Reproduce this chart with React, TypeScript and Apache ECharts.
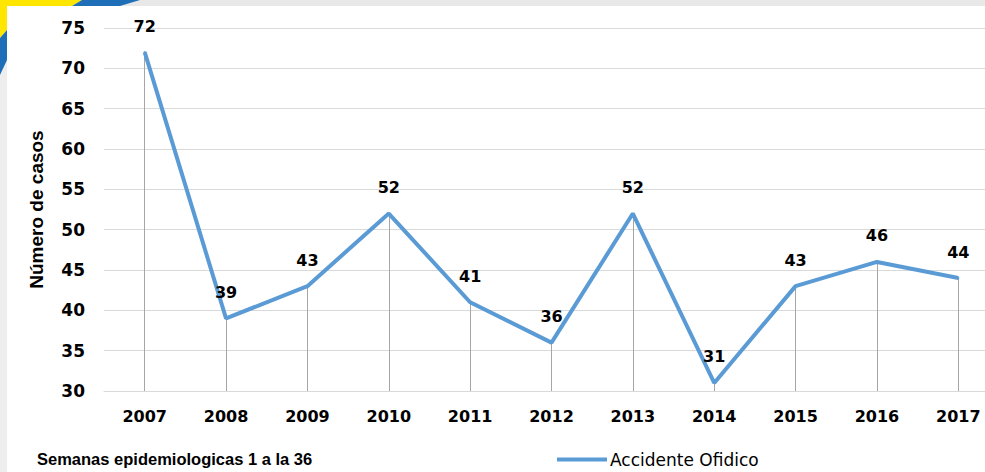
import React, { useEffect, useRef } from "react";
import * as echarts from "echarts";

const years = ["2007", "2008", "2009", "2010", "2011", "2012", "2013", "2014", "2015", "2016", "2017"];
const casos = [72, 39, 43, 52, 41, 36, 52, 31, 43, 46, 44];
const seriesName = "Accidente Ofidico";
const yAxisName = "Número de casos";
const footNote = "Semanas epidemiologicas 1 a la 36";

export default function App() {
  const ref = useRef<HTMLDivElement>(null);
  useEffect(() => {
    if (!ref.current) return;
    const chart = echarts.init(ref.current, undefined, { renderer: "svg" });
    const yMin = 30;
    const drops = casos.map((v, i) => [
      { coord: [i, yMin] },
      { coord: [i, v] },
    ]);
    chart.setOption({
      animation: false,
      backgroundColor: "#ffffff",
      graphic: [
        { type: "rect", shape: { x: 0, y: 0, width: 1000, height: 6 }, style: { fill: "#e8e8e8" }, z: -10 },
        { type: "rect", shape: { x: 0, y: 0, width: 7, height: 472 }, style: { fill: "#eeeeee" }, z: -10 },
        { type: "polygon", shape: { points: [[0, 0], [82, 0], [72, 6], [7, 6], [7, 30], [0, 38]] }, style: { fill: "#ffe600" }, z: -9 },
        { type: "polygon", shape: { points: [[82, 0], [140, 0], [120, 6], [72, 6]] }, style: { fill: "#1f6fb8" }, z: -9 },
        { type: "polygon", shape: { points: [[0, 38], [7, 30], [7, 60], [0, 75]] }, style: { fill: "#1f6fb8" }, z: -9 },
        {
          type: "text",
          left: 37,
          top: 450,
          style: { text: footNote, font: "bold 16.5px 'Liberation Sans', Arial", fill: "#000" },
        },
      ],
      grid: { left: 104, right: 1, top: 28, bottom: 81 },
      legend: {
        left: 557,
        top: 451,
        icon: "rect",
        itemWidth: 50,
        itemHeight: 4,
        itemGap: 10,
        padding: 0,
        textStyle: { fontFamily: "'DejaVu Sans', Arial", fontSize: 17, color: "#000", padding: [0, 0, 0, -2] },
        data: [seriesName],
      },
      xAxis: {
        type: "category",
        data: years,
        boundaryGap: true,
        axisLine: { lineStyle: { color: "#d9d9d9", width: 1 } },
        axisTick: { show: false },
        axisLabel: { color: "#000", fontWeight: "bold", fontFamily: "'DejaVu Sans'", fontSize: 16, margin: 17 },
      },
      yAxis: {
        type: "value",
        min: 30,
        max: 75,
        interval: 5,
        name: yAxisName,
        nameLocation: "middle",
        nameGap: 58,
        nameTextStyle: { color: "#000", fontWeight: "bold", fontFamily: "'Liberation Sans', Arial", fontSize: 19 },
        axisLine: { show: false },
        axisTick: { show: false },
        splitLine: { lineStyle: { color: "#d9d9d9", width: 1 } },
        axisLabel: { color: "#000", fontWeight: "bold", fontFamily: "'DejaVu Sans'", fontSize: 17, margin: 19 },
      },
      series: [
        {
          name: seriesName,
          type: "line",
          data: casos,
          symbol: "circle",
          symbolSize: 2,
          showSymbol: true,
          lineStyle: { color: "#5b9bd5", width: 4 },
          itemStyle: { color: "#5b9bd5" },
          label: {
            show: true,
            position: "top",
            distance: 17,
            color: "#000",
            fontWeight: "bold",
            fontFamily: "'DejaVu Sans'",
            fontSize: 16,
          },
          markLine: {
            silent: true,
            symbol: "none",
            label: { show: false },
            lineStyle: { color: "#a6a6a6", width: 1, type: "solid" },
            data: drops,
            z: 1,
          },
          z: 3,
        },
      ],
    });
    return () => chart.dispose();
  }, []);
  return <div ref={ref} style={{ position: "fixed", left: 0, top: 0, width: 1000, height: 472 }} />;
}
